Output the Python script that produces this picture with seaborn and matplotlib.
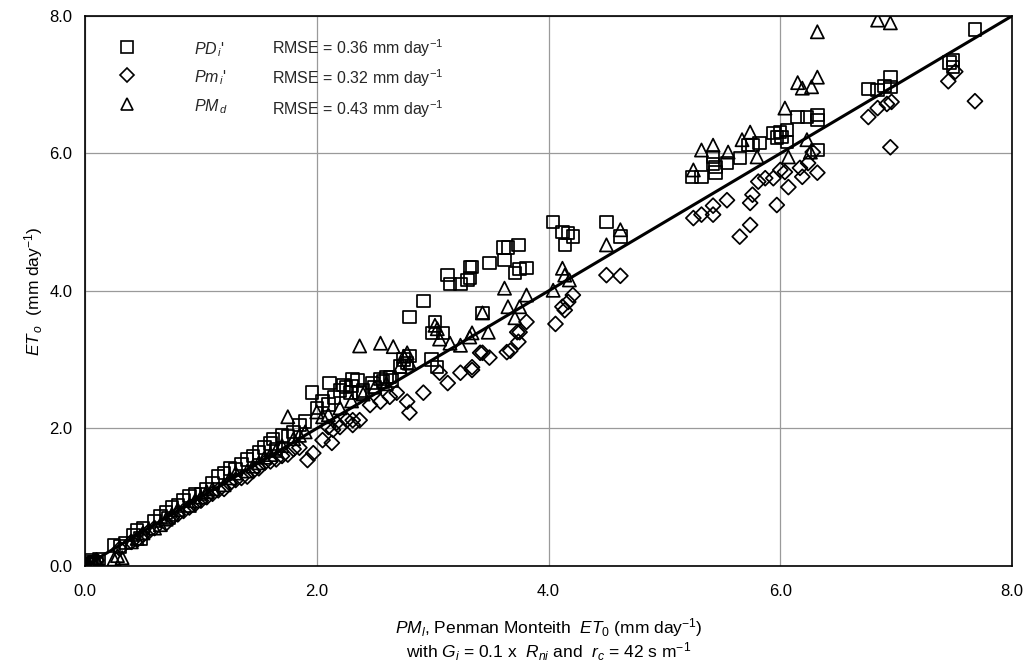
import matplotlib
matplotlib.use("Agg")
import matplotlib.pyplot as plt
import seaborn as sns
import pandas as pd
from matplotlib.lines import Line2D

# ---------------- data ----------------
pd_x = [0.02, 0.04, 0.06, 0.08, 0.10, 0.05, 0.12, 0.25, 0.30, 0.35, 0.42, 0.45, 0.50, 0.48,
        0.60, 0.65, 0.70, 0.72, 0.75, 0.80, 0.85, 0.90, 0.95, 1.00, 1.05, 1.10, 1.15, 1.20,
        1.25, 1.30, 1.35, 1.40, 1.45, 1.50, 1.55, 1.60, 1.62, 1.65, 1.70, 1.75, 1.80, 1.85,
        1.90, 1.96, 2.00, 2.05, 2.10, 2.15, 2.20, 2.25, 2.30, 2.35, 2.40, 2.50, 2.55, 2.60,
        2.65, 2.72, 2.75, 2.78, 2.80, 2.11, 2.23, 2.31, 2.48, 2.57, 2.63, 2.29, 2.37,
        2.80, 2.92, 3.13, 3.15, 3.24, 3.30, 3.34, 3.32, 3.32, 3.49, 3.62, 3.65, 3.74, 3.61,
        3.71, 3.75, 3.81, 3.43, 3.02, 3.00, 3.09, 2.99, 3.04,
        4.04, 4.12, 4.17, 4.21, 4.14, 4.50, 4.62,
        5.24, 5.32, 5.42, 5.44, 5.54, 5.65, 5.72, 5.76, 5.82, 5.94, 6.00, 6.06, 5.97, 6.01,
        6.06, 6.15, 6.23, 6.32, 6.32, 6.32, 5.42, 5.44,
        6.76, 6.84, 6.90, 6.95, 6.95, 7.46, 7.49, 7.49, 7.68]
pd_y = [0.02, 0.05, 0.03, 0.06, 0.04, 0.08, 0.10, 0.30, 0.28, 0.33, 0.45, 0.52, 0.55, 0.40,
        0.65, 0.72, 0.78, 0.70, 0.85, 0.88, 0.95, 1.02, 1.05, 1.05, 1.12, 1.20, 1.30, 1.35,
        1.42, 1.40, 1.48, 1.55, 1.60, 1.65, 1.72, 1.78, 1.85, 1.70, 1.90, 1.88, 1.95, 2.05,
        2.10, 2.52, 2.30, 2.40, 2.35, 2.45, 2.55, 2.60, 2.62, 2.70, 2.55, 2.60, 2.72, 2.75,
        2.70, 2.90, 3.00, 2.95, 3.05, 2.66, 2.63, 2.71, 2.66, 2.68, 2.75, 2.52, 2.52,
        3.62, 3.85, 4.23, 4.10, 4.10, 4.16, 4.35, 4.35, 4.19, 4.41, 4.45, 4.63, 4.67, 4.63,
        4.26, 4.32, 4.33, 3.68, 3.55, 3.39, 3.39, 3.00, 2.89,
        5.00, 4.86, 4.84, 4.79, 4.67, 5.00, 4.79,
        5.66, 5.66, 5.95, 5.80, 5.86, 5.93, 6.12, 6.12, 6.15, 6.30, 6.31, 6.34, 6.23, 6.24,
        6.17, 6.53, 6.53, 6.56, 6.49, 6.05, 5.85, 5.72,
        6.94, 6.92, 6.98, 6.97, 7.11, 7.32, 7.36, 7.26, 7.80]

pm_x = [0.02, 0.05, 0.08, 0.10, 0.30, 0.40, 0.45, 0.50, 0.55, 0.60, 0.70, 0.75, 0.80, 0.85,
        0.90, 0.95, 1.00, 1.05, 1.10, 1.15, 1.20, 1.25, 1.30, 1.35, 1.40, 1.45, 1.50, 1.55,
        1.60, 1.65, 1.70, 1.75, 1.80, 1.85, 1.92, 1.97, 2.05, 2.13, 2.10, 2.14, 2.20, 2.26,
        2.31, 2.17, 2.31, 2.37, 2.46, 2.55, 2.63, 2.69, 2.78, 2.80, 2.92, 3.06, 3.13, 3.24,
        3.34, 3.41, 3.34, 3.43, 3.49, 3.64, 3.67, 3.74, 3.73, 3.75, 3.81, 4.06, 4.12, 4.14,
        4.17, 4.21, 4.50, 4.62,
        5.25, 5.32, 5.42, 5.42, 5.54, 5.65, 5.74, 5.74, 5.76, 5.81, 5.87, 5.94, 6.00, 6.04,
        5.97, 6.07, 6.17, 6.19, 6.24, 6.32, 6.28,
        6.76, 6.84, 6.92, 6.96, 6.95, 7.45, 7.51, 7.68]
pm_y = [0.01, 0.03, 0.05, 0.08, 0.25, 0.35, 0.38, 0.45, 0.50, 0.55, 0.62, 0.70, 0.75, 0.80,
        0.85, 0.90, 0.95, 1.00, 1.05, 1.10, 1.12, 1.20, 1.25, 1.28, 1.30, 1.38, 1.42, 1.50,
        1.52, 1.55, 1.60, 1.62, 1.70, 1.72, 1.54, 1.64, 1.83, 1.79, 2.02, 1.98, 2.02, 2.12,
        2.05, 2.08, 2.12, 2.12, 2.34, 2.39, 2.46, 2.52, 2.39, 2.23, 2.52, 2.81, 2.66, 2.81,
        2.89, 3.10, 2.85, 3.10, 3.03, 3.11, 3.13, 3.26, 3.40, 3.40, 3.55, 3.52, 3.77, 3.72,
        3.84, 3.94, 4.23, 4.22,
        5.06, 5.11, 5.24, 5.11, 5.32, 4.79, 4.96, 5.28, 5.40, 5.59, 5.64, 5.64, 5.76, 5.73,
        5.25, 5.51, 5.79, 5.66, 5.86, 5.72, 6.02,
        6.53, 6.66, 6.72, 6.75, 6.09, 7.05, 7.19, 6.76]

pmd_x = [0.02, 0.05, 0.10, 0.25, 0.28, 0.32, 0.40, 0.45, 0.50, 0.60, 0.65, 0.70, 0.75, 0.80,
         0.90, 0.95, 1.00, 1.05, 1.10, 1.20, 1.25, 1.30, 1.40, 1.45, 1.50, 1.55, 1.60, 1.65,
         1.70, 1.75, 1.80, 1.85, 1.90, 2.00, 2.05, 2.10, 2.20, 2.30, 2.37, 2.55, 2.66, 2.40,
         2.50, 2.60, 2.72, 2.75, 2.78, 2.80, 3.02, 3.04, 3.06, 3.15, 3.24, 3.34, 3.62, 3.81,
         3.65, 3.75, 3.71, 3.48, 3.32, 3.43, 4.04, 4.12, 4.14, 4.18, 4.50, 4.62,
         5.25, 5.32, 5.42, 5.55, 5.67, 5.74, 5.80, 6.07, 6.23, 6.26, 6.04, 6.15, 6.19, 6.27,
         6.32, 6.32, 6.84, 6.95]
pmd_y = [0.02, 0.05, 0.08, 0.10, 0.15, 0.12, 0.35, 0.40, 0.48, 0.55, 0.60, 0.68, 0.75, 0.82,
         0.88, 0.95, 1.00, 1.08, 1.12, 1.18, 1.28, 1.35, 1.38, 1.45, 1.50, 1.58, 1.62, 1.68,
         1.75, 2.17, 1.85, 1.90, 1.95, 2.24, 2.17, 2.20, 2.30, 2.40, 3.20, 3.24, 3.19, 2.50,
         2.60, 2.65, 2.90, 3.05, 3.10, 2.95, 3.50, 3.45, 3.30, 3.24, 3.21, 3.39, 4.04, 3.94,
         3.77, 3.77, 3.61, 3.40, 3.33, 3.68, 4.01, 4.33, 4.23, 4.16, 4.67, 4.89,
         5.76, 6.05, 6.12, 6.02, 6.20, 6.31, 5.95, 5.95, 6.20, 6.02, 6.66, 7.03, 6.95, 6.97,
         7.11, 7.77, 7.94, 7.90]

one_to_one = [0.0, 8.0]
ticks = [0.0, 2.0, 4.0, 6.0, 8.0]
tick_labels = ["0.0", "2.0", "4.0", "6.0", "8.0"]
names = ["$PD_{\\,i}$'", "$Pm_{\\,i}$'", "$PM_{\\,d}$"]
rmse = ["0.36", "0.32", "0.43"]

# ---------------- style ----------------
sns.set_theme(style="white")
plt.rcParams['font.family'] = ['Liberation Sans', 'DejaVu Sans']
plt.rcParams['mathtext.fontset'] = 'custom'
plt.rcParams['mathtext.rm'] = 'Liberation Sans'
plt.rcParams['mathtext.it'] = 'Liberation Sans:italic'
plt.rcParams['mathtext.bf'] = 'Liberation Sans:bold'

fig = plt.figure(figsize=(10.33, 6.65), dpi=100)
ax = fig.add_axes([0.0823, 0.149, 0.8974, 0.827])

frames = [
    pd.DataFrame({"x": pd_x, "y": pd_y}),
    pd.DataFrame({"x": pm_x, "y": pm_y}),
    pd.DataFrame({"x": pmd_x, "y": pmd_y}),
]
markers = ["s", "D", "^"]
sizes = [80, 58, 90]

ax.grid(True, color="#9a9a9a", linewidth=0.9)
ax.set_axisbelow(True)

for df, m, s in zip(frames, markers, sizes):
    sns.scatterplot(data=df, x="x", y="y", marker=m, s=s, facecolor="none",
                    edgecolor="black", linewidth=1.25, ax=ax, zorder=3, legend=False)

sns.lineplot(x=one_to_one, y=one_to_one, color="black", linewidth=2.2, ax=ax, zorder=4)

ax.set_xlim(0, 8)
ax.set_ylim(0, 8)
ax.set_xticks(ticks)
ax.set_yticks(ticks)
ax.set_xticklabels(tick_labels)
ax.set_yticklabels(tick_labels)
ax.tick_params(axis="both", length=0, labelsize=12, colors="black")
ax.tick_params(axis="x", pad=13)
ax.tick_params(axis="y", pad=9)
for sp in ax.spines.values():
    sp.set_color("black")
    sp.set_linewidth(1.2)

ax.set_xlabel("$PM_l$, Penman Monteith  $ET_0$ (mm day$^{-1}$)\n"
              "with $G_i$ = 0.1 x  $R_{ni}$ and  $r_c$ = 42 s m$^{-1}$",
              fontsize=12.5, labelpad=12, linespacing=1.1, color="black")
ax.set_ylabel("$ET_{\\,o}$  (mm day$^{-1}$)", fontsize=12.5, labelpad=3, color="black")

# legend: markers + names, and an aligned RMSE column
handles = [Line2D([], [], linestyle="none", marker=m, markersize=ms,
                  markerfacecolor="none", markeredgecolor="black", markeredgewidth=1.2)
           for m, ms in zip(markers, [8.5, 7, 9])]
common = dict(loc="upper left", frameon=False, fontsize=11.5, handleheight=1.5,
              labelspacing=0.55, borderaxespad=0, borderpad=0)
leg1 = ax.legend(handles, names, bbox_to_anchor=(0.037, 0.958),
                 handlelength=1.0, handletextpad=3.65, **common)
ax.add_artist(leg1)
blank = [Line2D([], [], linestyle="none") for _ in rmse]
ax.legend(blank, [f"RMSE = {r} mm day$^{{-1}}$" for r in rmse],
          bbox_to_anchor=(0.202, 0.962), handlelength=0, handletextpad=0, **common)

fig.savefig("out.png", dpi=100)
